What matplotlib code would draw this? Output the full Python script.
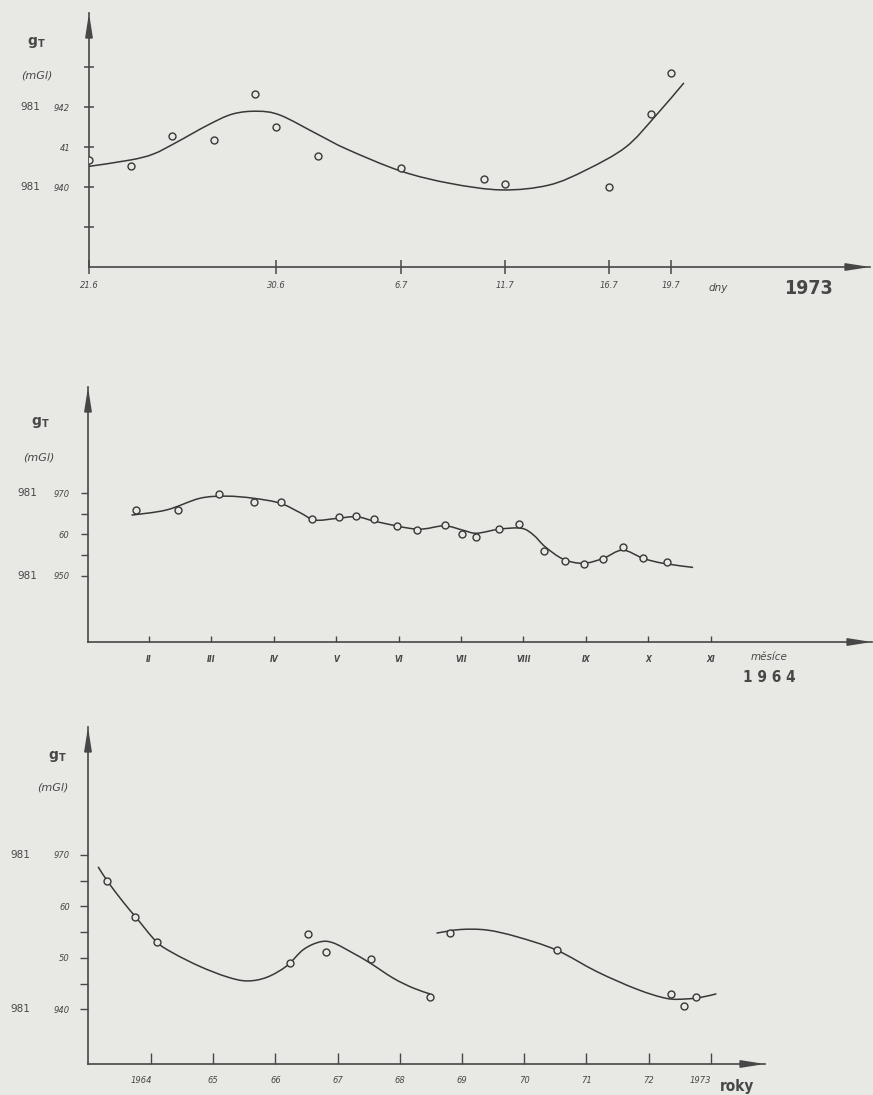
import matplotlib
matplotlib.use('Agg')
import matplotlib.pyplot as plt
from matplotlib.path import Path
from matplotlib.patches import PathPatch
from matplotlib import font_manager
import matplotlib.transforms as mtransforms
import numpy as np

# ---------------- data ----------------
# Panel 1: days after 21.6.1973
p1_days = [0, 2, 4, 6, 8, 9, 11, 15, 19, 20, 25, 27, 28]
p1_vals = [940.67, 940.53, 941.27, 941.18, 942.33, 941.51, 940.77, 940.49, 940.2, 940.08, 940.0, 941.84, 942.87]
p1_curve_days = [0, 2, 3.1, 4.2, 5.7, 6.9, 8.1, 9.2, 11, 12.4, 15, 17.4, 19.85, 22.1, 23.9, 25.8, 27.2, 28.6]
p1_curve_vals = [940.52, 940.68, 940.83, 941.12, 941.55, 941.83, 941.9, 941.8, 941.32, 940.95, 940.4,
                 940.09, 939.93, 940.05, 940.43, 941.0, 941.76, 942.61]
p1_xticks = [0, 9, 15, 20, 25, 28]
p1_xlabels = ['21.6', '30.6', '6.7', '11.7', '16.7', '19.7']
p1_yticks = [939, 940, 941, 942, 943]
p1_ylabels = ['', '940', '41', '942', '']
p1_prefix = [940, 942]

# Panel 2: months of 1964
p2_months = [1.79, 2.46, 3.12, 3.68, 4.12, 4.62, 5.04, 5.32, 5.60, 5.97, 6.29, 6.74, 7.01, 7.24, 7.61,
             7.93, 8.33, 8.67, 8.97, 9.27, 9.59, 9.91, 10.30]
p2_vals = [965.95, 965.95, 969.76, 967.9, 967.9, 963.76, 964.17, 964.49, 963.69, 961.99, 961.09, 962.3,
           960.05, 959.47, 961.26, 962.48, 956.0, 953.64, 952.77, 954.13, 956.89, 954.37, 953.25]
p2_curve_months = [1.72, 2.28, 2.82, 3.25, 3.67, 4.10, 4.42, 4.66, 5.01, 5.33, 5.65, 6.29, 6.73, 7.04,
                   7.25, 7.62, 7.97, 8.16, 8.35, 8.64, 8.96, 9.28, 9.59, 9.92, 10.24, 10.72]
p2_curve_vals = [964.7, 965.95, 968.8, 969.3, 968.8, 967.6, 965.3, 963.5, 963.9, 964.3, 963.1, 961.3, 962.1,
                 961.0, 960.3, 961.3, 961.5, 959.9, 957.0, 954.0, 953.0, 954.2, 956.2, 954.2, 953.0, 952.0]
p2_xticks = [2, 3, 4, 5, 6, 7, 8, 9, 10, 11]
p2_xlabels = ['II', 'III', 'IV', 'V', 'VI', 'VII', 'VIII', 'IX', 'X', 'XI']
p2_yticks = [950, 955, 960, 965, 970]
p2_ylabels = ['950', '', '60', '', '970']
p2_prefix = [950, 970]

# Panel 3: years
p3_years = [1963.30, 1963.75, 1964.09, 1966.23, 1966.53, 1966.82, 1967.54, 1968.49,
            1968.81, 1970.52, 1972.36, 1972.57, 1972.77]
p3_vals = [964.94, 958.0, 953.13, 948.93, 954.57, 951.07, 949.71, 942.32,
           954.77, 951.52, 942.9, 940.62, 942.32]
p3_curve1_years = [1963.15, 1963.30, 1963.55, 1963.77, 1964.09, 1964.36, 1964.79, 1965.22, 1965.54,
                   1965.86, 1966.18, 1966.45, 1966.72, 1966.93, 1967.25, 1967.52, 1967.90, 1968.22, 1968.49]
p3_curve1_vals = [967.7, 964.9, 960.9, 957.7, 953.1, 950.9, 948.3, 946.3, 945.5,
                  946.2, 948.4, 951.6, 953.1, 952.9, 950.9, 949.0, 946.0, 944.1, 942.96]
p3_curve2_years = [1968.59, 1968.97, 1969.40, 1969.88, 1970.52, 1971.17, 1971.81, 1972.29, 1972.61,
                   1972.88, 1973.09]
p3_curve2_vals = [954.8, 955.5, 955.4, 954.1, 951.5, 947.3, 943.9, 942.1, 942.0, 942.4, 943.0]
p3_xticks = [1964, 1965, 1966, 1967, 1968, 1969, 1970, 1971, 1972, 1973]
p3_xlabels = ['1964', '65', '66', '67', '68', '69', '70', '71', '72', '1973']
p3_yticks = [940, 945, 950, 955, 960, 965, 970]
p3_ylabels = ['940', '', '50', '', '60', '', '970']
p3_prefix = [940, 970]

# ---------------- style ----------------
W, H = 873, 1095
BG = '#e8e8e5'
INK = '#474747'
LINE = '#383838'
names = {f.name for f in font_manager.fontManager.ttflist}
if 'Liberation Sans Narrow' in names:
    NARROW = dict(family='Liberation Sans Narrow')
else:
    NARROW = dict(family='DejaVu Sans', stretch='condensed')

fig = plt.figure(figsize=(W / 100, H / 100), dpi=100, facecolor=BG)


def px_axes(left, top, right, bottom):
    return fig.add_axes([left / W, 1 - bottom / H, (right - left) / W, (bottom - top) / H])


def ftext(x, y, s, **kw):
    kw.setdefault('ha', 'center')
    kw.setdefault('va', 'center')
    kw.setdefault('color', INK)
    fig.text(x / W, 1 - y / H, s, **kw)


def smooth_path(xs, ys):
    pts = np.column_stack([xs, ys]).astype(float)
    n = len(pts)
    verts = [pts[0]]
    codes = [Path.MOVETO]
    for i in range(n - 1):
        p0 = pts[i - 1] if i > 0 else pts[i]
        p1 = pts[i]
        p2 = pts[i + 1]
        p3 = pts[i + 2] if i + 2 < n else pts[i + 1]
        verts += [p1 + (p2 - p0) / 6, p2 - (p3 - p1) / 6, p2]
        codes += [Path.CURVE4] * 3
    return Path(verts, codes)


def setup(ax, xlim, ylim):
    ax.set_xlim(*xlim)
    ax.set_ylim(*ylim)
    ax.patch.set_visible(False)
    for s in ['top', 'right']:
        ax.spines[s].set_visible(False)
    for s in ['left', 'bottom']:
        ax.spines[s].set_color(INK)
        ax.spines[s].set_linewidth(1.2)
    ax.annotate('', xy=(0, 1), xycoords='axes fraction', xytext=(0, -20), textcoords='offset pixels',
                arrowprops=dict(arrowstyle='-|>,head_length=1.4,head_width=0.22', color=INK, lw=1.2,
                                shrinkA=0, shrinkB=0))
    ax.annotate('', xy=(1, 0), xycoords='axes fraction', xytext=(-22, 0), textcoords='offset pixels',
                arrowprops=dict(arrowstyle='-|>,head_length=1.4,head_width=0.22', color=INK, lw=1.2,
                                shrinkA=0, shrinkB=0))


def draw(ax, cx, cy, px, py):
    ax.add_patch(PathPatch(smooth_path(cx, cy), facecolor='none', edgecolor=LINE, lw=1.1, zorder=3))
    ax.plot(px, py, 'o', ms=5, mfc=BG, mec=LINE, mew=1.0, zorder=4, linestyle='none')


def prefix(ax, vals, dx):
    tr = mtransforms.offset_copy(ax.get_yaxis_transform(), fig=fig, x=dx, y=0, units='dots')
    for v in vals:
        ax.text(0, v, '981', transform=tr, ha='left', va='center', fontsize=7.5, color=INK)


# ---------------- panel 1 ----------------
ax1 = px_axes(89, 13, 870, 267)
setup(ax1, (0, (870 - 89) / 20.8), (938.0, 944.36))
draw(ax1, p1_curve_days, p1_curve_vals, p1_days, p1_vals)
ax1.set_xticks(p1_xticks, p1_xlabels, fontsize=6, style='italic', color=INK)
ax1.set_yticks(p1_yticks, p1_ylabels, fontsize=6, style='italic', color=INK)
ax1.tick_params(axis='x', direction='inout', length=10, width=1.1, color=INK, pad=5)
ax1.tick_params(axis='y', direction='inout', length=7, width=1.1, color=INK, pad=10)
prefix(ax1, p1_prefix, -69)
ftext(718, 288, 'dny', fontsize=7.5, style='italic')
ftext(808, 288, '1973', fontsize=14, fontweight='bold', **NARROW)
ftext(36, 42, r'$\mathbf{g}_{\mathbf{T}}$', fontsize=10)
ftext(37, 75, '(mGl)', fontsize=8, style='italic')

# ---------------- panel 2 ----------------
ax2 = px_axes(88, 387, 872, 642)
setup(ax2, (2 - 61 / 62.4, 2 + 723 / 62.4), (933.9, 995.8))
draw(ax2, p2_curve_months, p2_curve_vals, p2_months, p2_vals)
ax2.set_xticks(p2_xticks, p2_xlabels, fontsize=5.5, style='italic', fontweight='bold', color=INK)
ax2.set_yticks(p2_yticks, p2_ylabels, fontsize=6, style='italic', color=INK)
ax2.tick_params(axis='x', direction='in', length=4.5, width=1.0, color=INK, pad=9)
ax2.tick_params(axis='y', direction='out', length=5, width=1.0, color=INK, pad=8.5)
prefix(ax2, p2_prefix, -71)
ftext(769, 657, 'měsíce', fontsize=7.5, style='italic')
ftext(769, 678, '1 9 6 4', fontsize=11, fontweight='bold', **NARROW)
ftext(40, 422, r'$\mathbf{g}_{\mathbf{T}}$', fontsize=10)
ftext(39, 457, '(mGl)', fontsize=8, style='italic')

# ---------------- panel 3 ----------------
ax3 = px_axes(88, 727, 765, 1064)
setup(ax3, (1964 - 63 / 62.2, 1964 + 614 / 62.2), (929.34, 994.9))
draw(ax3, p3_curve1_years, p3_curve1_vals, [], [])
draw(ax3, p3_curve2_years, p3_curve2_vals, p3_years, p3_vals)
ax3.set_xticks(p3_xticks, p3_xlabels, fontsize=6, style='italic', color=INK)
ax3.set_yticks(p3_yticks, p3_ylabels, fontsize=6, style='italic', color=INK)
ax3.tick_params(axis='x', direction='in', length=8, width=1.0, color=INK, pad=8.5)
ax3.tick_params(axis='y', direction='out', length=6, width=1.0, color=INK, pad=7)
shift = mtransforms.ScaledTranslation(-10 / 100, 0, fig.dpi_scale_trans)
for lbl in ax3.get_xticklabels():
    if len(lbl.get_text()) == 4:
        lbl.set_transform(lbl.get_transform() + shift)
prefix(ax3, p3_prefix, -78)
ftext(737, 1086, 'roky', fontsize=11, fontweight='bold', **NARROW)
ftext(57, 757, r'$\mathbf{g}_{\mathbf{T}}$', fontsize=10)
ftext(53, 787, '(mGl)', fontsize=8, style='italic')

fig.savefig('out.png', dpi=100, facecolor=BG)
